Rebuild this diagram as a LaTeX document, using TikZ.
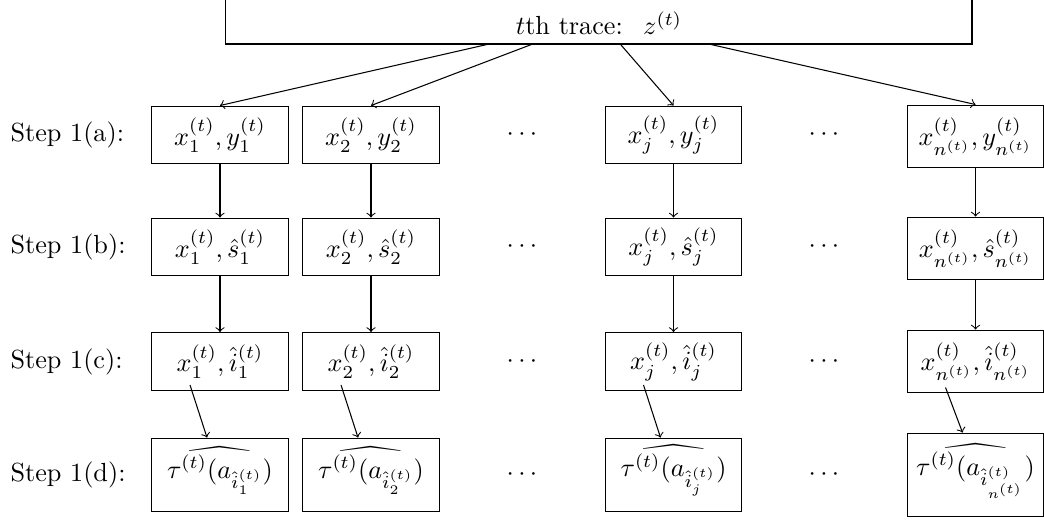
\documentclass[tikz,border=0pt]{standalone}
\usepackage{graphicx}
\usetikzlibrary{calc}
\newcommand{\widerhat}[1]{\mbox{\ooalign{$#1$\cr\hidewidth\scalebox{1.6}[1]{$\widehat{\vphantom{#1}\hphantom{\tau^{(t)}(a_{i})}}$}\hidewidth\cr}}}
\begin{document}
\begin{tikzpicture}[x=0.3817pt,y=-0.3817pt,
  box/.style={draw, rectangle, inner xsep=1.5pt, inner ysep=0pt, text width=49pt, align=center, minimum height=22.1pt},
  boxn/.style={box, minimum height=24pt},
  boxd/.style={box, minimum height=28.2pt},
  boxdn/.style={box, minimum height=32pt},
  lab/.style={anchor=west, inner sep=0pt},
  dotsnode/.style={inner sep=0pt},
  conn/.style={->}]
\useasboundingbox (0,0) rectangle (1044,520);
% top trace box
\node[draw, minimum width=285.1pt, minimum height=19.1pt, inner sep=0pt] (top) at (598.5,19) {};
\node[anchor=base, inner sep=0pt] (toplabel) at (599,35) {$t$th trace: \ $z^{(t)}$};
% row labels
\node[lab] (la) at (10,135) {Step 1(a):};
\node[lab] (lb) at (10,247) {Step 1(b):};
\node[lab] (lc) at (10,361.5) {Step 1(c):};
\node[lab] (ld) at (10,475) {Step 1(d):};
% row a
\node[box] (a1) at (220,135) {$x_1^{(t)}, y_1^{(t)}$};
\node[box] (a2) at (371,135) {$x_2^{(t)}, y_2^{(t)}$};
\node[box] (aj) at (673.5,135) {$x_j^{(t)}, y_j^{(t)}$};
\node[boxn] (an) at (975.5,136.5) {$x_{n^{(t)}}^{(t)}, y_{n^{(t)}}^{(t)}$};
% row b
\node[box] (b1) at (220,247) {$x_1^{(t)}, \hat{s}_1^{(t)}$};
\node[box] (b2) at (371,247) {$x_2^{(t)}, \hat{s}_2^{(t)}$};
\node[box] (bj) at (673.5,247) {$x_j^{(t)}, \hat{s}_j^{(t)}$};
\node[boxn] (bn) at (975.5,248.5) {$x_{n^{(t)}}^{(t)}, \hat{s}_{n^{(t)}}^{(t)}$};
% row c
\node[box] (c1) at (220,361.5) {$x_1^{(t)}, \hat{i}_1^{(t)}$};
\node[box] (c2) at (371,361.5) {$x_2^{(t)}, \hat{i}_2^{(t)}$};
\node[box] (cj) at (673.5,361.5) {$x_j^{(t)}, \hat{i}_j^{(t)}$};
\node[boxn] (cn) at (975.5,361.5) {$x_{n^{(t)}}^{(t)}, \hat{i}_{n^{(t)}}^{(t)}$};
% row d
\node[boxd] (d1) at (220,475) {\widerhat{\tau^{(t)}(a_{\hat{i}_1^{(t)}})}};
\node[boxd] (d2) at (371,475) {\widerhat{\tau^{(t)}(a_{\hat{i}_2^{(t)}})}};
\node[boxd] (dj) at (673.5,475) {\widerhat{\tau^{(t)}(a_{\hat{i}_j^{(t)}})}};
\node[boxdn] (dn) at (975.5,475) {\widerhat{\tau^{(t)}(a_{\hat{i}_{n^{(t)}}^{(t)}})}};
% dots
\foreach \r/\yy in {a/135,b/247,c/361.5,d/475}{
  \node[dotsnode] (dl\r) at (522,\yy) {$\cdots$};
  \node[dotsnode] (dr\r) at (824,\yy) {$\cdots$};
}
% connectors
\foreach \k in {1,2,j,n}{
  \draw[conn] (top) -- (a\k.north);
  \draw[conn] (a\k.south) -- (b\k.north);
  \draw[conn] (b\k.south) -- (c\k.north);
  \draw[conn] ([shift={(-30,-6)}]c\k.south) -- ([shift={(-13,0)}]d\k.north);
}
\end{tikzpicture}
\end{document}
